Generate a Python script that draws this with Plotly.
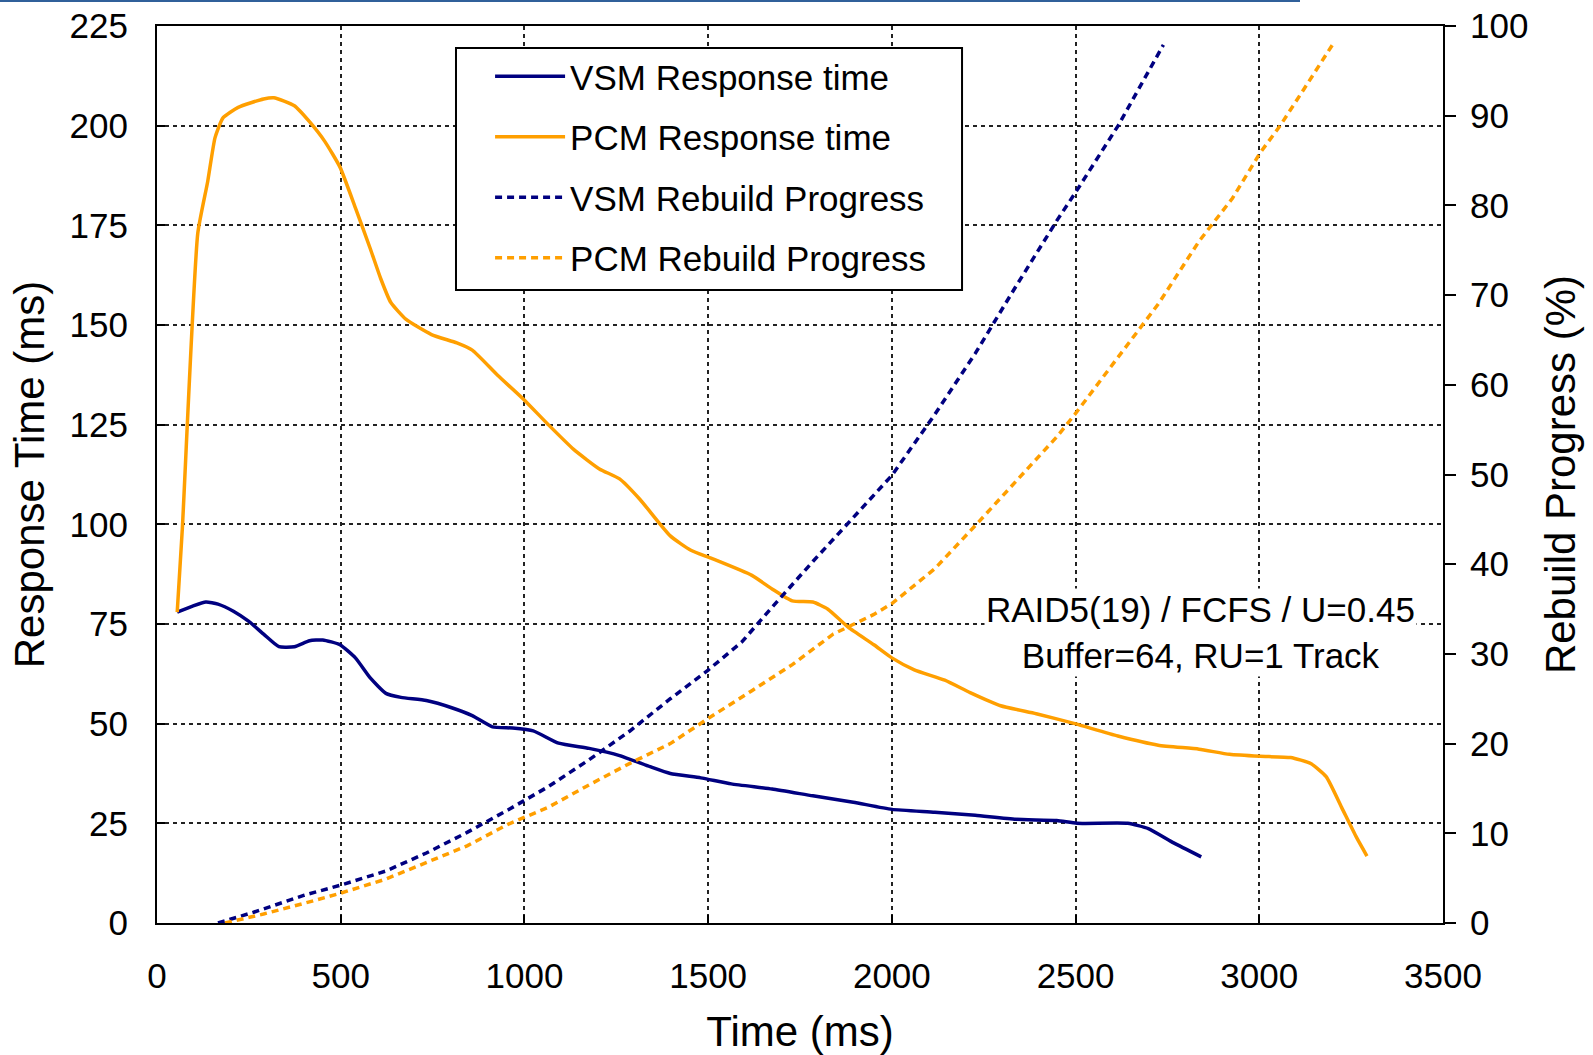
import plotly.graph_objects as go

# ---- data ----
vsm_rt_t = [55, 97, 133, 166, 208, 249, 291, 332, 374, 415, 451, 498, 540, 581, 623, 664, 733, 802, 858, 913,
            968, 1024, 1093, 1176, 1259, 1342, 1397, 1480, 1563, 1674, 1785, 1895, 2000, 2117, 2227, 2338, 2449,
            2504, 2642, 2698, 2767, 2842]
vsm_rt_v = [78, 79.5, 80.5, 80, 78.2, 75.7, 72.4, 69.3, 69.3, 70.8, 71, 69.8, 66.5, 61.4, 57.6, 56.6, 55.8, 54,
            52, 49.2, 48.9, 48.2, 45.1, 43.8, 42, 39.2, 37.5, 36.4, 34.9, 33.6, 31.9, 30.3, 28.5, 27.8, 27, 26,
            25.7, 25, 25, 23.7, 20.1, 16.6]

pcm_rt_t = [55, 69, 111, 138, 158, 180, 221, 290, 318, 374, 415, 457, 498, 540, 581, 609, 636, 678, 747, 816,
            858, 927, 996, 1065, 1134, 1204, 1259, 1314, 1397, 1453, 1508, 1619, 1674, 1729, 1785, 1826, 1881,
            1951, 2000, 2061, 2144, 2213, 2296, 2393, 2498, 2615, 2725, 2836, 2919, 3002, 3085, 3140, 3182,
            3224, 3265, 3293]
pcm_rt_v = [78, 99, 173, 186, 197, 202, 204.6, 206.7, 207, 205, 201, 196, 189.6, 179.4, 169, 161.6, 155.7,
            151.4, 147.6, 145.5, 143.7, 137.4, 131.5, 125, 118.8, 113.9, 111.4, 106.3, 97.1, 93.5, 91.5, 87.2,
            83.8, 80.8, 80.5, 78.7, 74.2, 69.8, 66.5, 63.5, 60.9, 57.8, 54.5, 52.5, 50, 46.9, 44.6, 43.6, 42.3,
            41.8, 41.5, 40, 36.7, 29, 21.4, 16.8]

vsm_rb_t = [166, 263, 401, 498, 623, 733, 844, 955, 1065, 1176, 1287, 1397, 1500, 1591, 1674, 1785, 1895, 2000,
            2117, 2227, 2338, 2449, 2504, 2616, 2739]
vsm_rb_v = [0, 1.2, 3.1, 4.2, 5.8, 7.8, 10.1, 12.6, 15.2, 18.2, 21.4, 25, 28.2, 31.3, 35.2, 40.3, 45.2, 49.9,
            56.7, 63.5, 71, 78.3, 81.7, 88.9, 97.9]

pcm_rb_t = [185, 290, 401, 498, 623, 733, 844, 955, 1065, 1176, 1287, 1397, 1500, 1619, 1729, 1840, 1951, 2000,
            2117, 2227, 2338, 2449, 2498, 2615, 2725, 2836, 2927, 3003, 3057, 3130, 3199]
pcm_rb_v = [0, 1, 2.2, 3.3, 4.9, 6.7, 8.6, 11, 12.9, 15.4, 17.8, 20, 22.8, 25.9, 28.8, 32.2, 34.4, 35.6, 39.5,
            44.3, 49.2, 54.2, 56.7, 63, 69, 76, 80.8, 85.9, 88.9, 93.5, 97.9]

x_ticks = [0, 500, 1000, 1500, 2000, 2500, 3000, 3500]
y_ticks = [0, 25, 50, 75, 100, 125, 150, 175, 200, 225]
y2_ticks = [0, 10, 20, 30, 40, 50, 60, 70, 80, 90, 100]

NAVY = "#000080"
ORANGE = "#FF9F00"
FONT = "Liberation Sans, Arial, sans-serif"

fig = go.Figure()
fig.add_trace(go.Scatter(x=vsm_rt_t, y=vsm_rt_v, mode="lines", name="VSM Response time",
                         line=dict(color=NAVY, width=3.5, shape="spline", smoothing=0.5), legendgroup="a"))
fig.add_trace(go.Scatter(x=pcm_rt_t, y=pcm_rt_v, mode="lines", name="PCM Response time",
                         line=dict(color=ORANGE, width=3.5, shape="spline", smoothing=0.5), legendgroup="b"))
fig.add_trace(go.Scatter(x=vsm_rb_t, y=vsm_rb_v, mode="lines", name="VSM Rebuild Progress", yaxis="y2",
                         line=dict(color=NAVY, width=3.5, dash="7px,5px"), legendgroup="c"))
fig.add_trace(go.Scatter(x=pcm_rb_t, y=pcm_rb_v, mode="lines", name="PCM Rebuild Progress", yaxis="y2",
                         line=dict(color=ORANGE, width=3.5, dash="7px,5px"), legendgroup="d"))

fig.update_layout(
    width=1593, height=1055,
    margin=dict(l=157, r=150, t=26, b=132, autoexpand=False),
    paper_bgcolor="white", plot_bgcolor="white",
    font=dict(family=FONT, size=35, color="black"),
    showlegend=True,
    legend=dict(x=0.259, y=0.9766, xanchor="left", yanchor="top",
                bgcolor="rgba(0,0,0,0)", borderwidth=0,
                font=dict(size=35), tracegroupgap=12, traceorder="grouped",
                itemwidth=70),
    xaxis=dict(range=[0, 3500], tickvals=x_ticks, showline=True, linecolor="black", linewidth=2,
               mirror=True, showgrid=True, gridcolor="#222", gridwidth=1.5, griddash="4px,4px",
               ticks="inside", ticklen=8, tickcolor="black", tickwidth=1.5, zeroline=False,
               ticklabelstandoff=21, automargin=False,
               title=dict(text="Time (ms)", standoff=31)),
    yaxis=dict(range=[0, 225], tickvals=y_ticks, showline=True, linecolor="black", linewidth=2,
               showgrid=True, gridcolor="#222", gridwidth=1.5, griddash="4px,4px",
               ticks="inside", ticklen=8, tickcolor="black", tickwidth=1.5, zeroline=False,
               ticklabelstandoff=20, automargin=False,
               title=dict(text="Response Time (ms)", standoff=12)),
    yaxis2=dict(range=[0, 100], tickvals=y2_ticks, overlaying="y", side="right", showline=True,
                linecolor="black", linewidth=2, showgrid=False, zeroline=False,
                ticks="outside", ticklen=11, tickcolor="black", tickwidth=1.5,
                ticklabelstandoff=7, automargin=False,
                title=dict(text="Rebuild Progress (%)", standoff=18)),
    annotations=[dict(text="RAID5(19) / FCFS / U=0.45<br>Buffer=64, RU=1 Track", xref="paper", yref="paper",
                      x=0.8118, y=0.3244, xanchor="center", yanchor="middle", showarrow=False,
                      align="center", bgcolor="white", font=dict(size=35, family=FONT))],
    shapes=[
        dict(type="line", xref="paper", yref="paper", x0=-0.1221, x1=0.8888, y0=1.0279, y1=1.0279,
             line=dict(color="#30609a", width=2)),
        dict(type="rect", xref="paper", yref="paper", x0=0.2325, x1=0.626, y0=0.7057, y1=0.9755,
             line=dict(color="black", width=2), fillcolor="white", layer="above"),
    ],
)

fig.write_html("out.html")
